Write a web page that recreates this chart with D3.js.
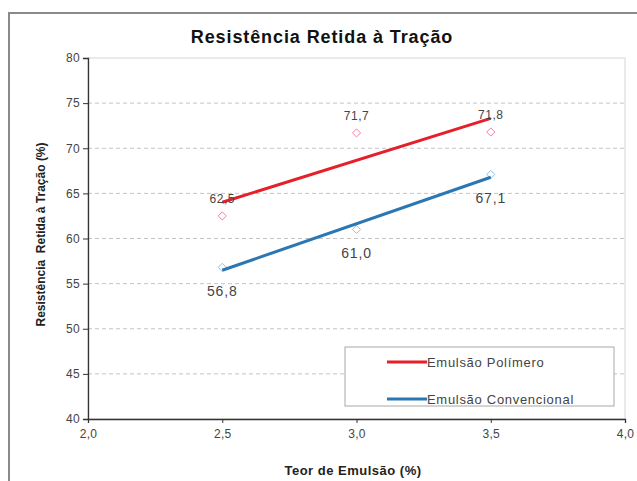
<!DOCTYPE html>
<html>
<head>
<meta charset="utf-8">
<script src="https://cdn.jsdelivr.net/npm/d3@7"></script>
<style>
  html, body { margin: 0; padding: 0; background: #fff; }
  svg { display: block; font-family: Arial, "Liberation Sans", sans-serif; }
</style>
</head>
<body>
<svg id="chart" width="637" height="481"></svg>
<script>
// Teor de emulsão (%) tested
const teor = [2.5, 3.0, 3.5];
// Retained tensile strength (%) per emulsion type
const polimero = [62.5, 71.7, 71.8];
const convencional = [56.8, 61.0, 67.1];
const seriesNames = ["Emulsão Polímero", "Emulsão Convencional"];
const xTicks = [2.0, 2.5, 3.0, 3.5, 4.0];
const yTicks = [40, 45, 50, 55, 60, 65, 70, 75, 80];

const svg = d3.select("#chart");
const fmt = v => d3.format(".1f")(v).replace(".", ",");

const plot = { left: 88, right: 625, top: 58, bottom: 419 };
const x = d3.scaleLinear().domain([2, 4]).range([plot.left, plot.right]);
const y = d3.scaleLinear().domain([40, 80]).range([plot.bottom, plot.top]);

// outer chart frame
svg.append("rect").attr("x", 9).attr("y", 13).attr("width", 640).attr("height", 480)
  .attr("fill", "#fff").attr("stroke", "#8a8a8a").attr("stroke-width", 2);

// plot area frame
svg.append("rect").attr("x", plot.left).attr("y", plot.top)
  .attr("width", plot.right - plot.left).attr("height", plot.bottom - plot.top)
  .attr("fill", "none").attr("stroke", "#d6d6d6").attr("stroke-width", 1);

// dashed horizontal gridlines
svg.append("g").selectAll("line").data(yTicks.filter(t => t > 40 && t < 80)).join("line")
  .attr("x1", plot.left).attr("x2", plot.right)
  .attr("y1", d => y(d)).attr("y2", d => y(d))
  .attr("stroke", "#c4c4c4").attr("stroke-width", 1).attr("stroke-dasharray", "4,3");

// axes
const yAxis = svg.append("g").attr("transform", `translate(${plot.left},0)`)
  .call(d3.axisLeft(y).tickValues(yTicks).tickFormat(d => d).tickSize(5).tickPadding(3));
const xAxis = svg.append("g").attr("transform", `translate(0,${plot.bottom})`)
  .call(d3.axisBottom(x).tickValues(xTicks).tickFormat(fmt).tickSize(4).tickPadding(6));
[yAxis, xAxis].forEach(a => {
  a.select(".domain").attr("stroke", "#333").attr("stroke-width", 1.3);
  a.selectAll(".tick line").attr("stroke", "#333");
  a.selectAll("text").attr("fill", "#444").attr("font-size", 12).attr("letter-spacing", 0.3);
});

// title and axis titles
svg.append("text").attr("x", 322).attr("y", 43).attr("text-anchor", "middle")
  .attr("font-size", 18).attr("font-weight", "bold").attr("fill", "#111")
  .attr("letter-spacing", 0.9)
  .text("Resistência Retida à Tração");
svg.append("text").attr("x", 353).attr("y", 475)
  .attr("text-anchor", "middle").attr("font-size", 13).attr("font-weight", "bold").attr("fill", "#222")
  .attr("letter-spacing", 0.5)
  .text("Teor de Emulsão (%)");
svg.append("text").attr("transform", `translate(45,${(plot.top + plot.bottom) / 2 - 4}) rotate(-90)`)
  .attr("text-anchor", "middle").attr("font-size", 12).attr("font-weight", "bold").attr("fill", "#222")
  .attr("xml:space", "preserve")
  .text("Resistência  Retida à Tração (%)");

// least-squares trend line over the tested range
function trend(xs, ys) {
  const mx = d3.mean(xs), my = d3.mean(ys);
  const b = d3.sum(xs, (v, i) => (v - mx) * (ys[i] - my)) / d3.sum(xs, v => (v - mx) ** 2);
  const a = my - b * mx;
  const x0 = d3.min(xs), x1 = d3.max(xs);
  return [[x0, a + b * x0], [x1, a + b * x1]];
}

const series = [
  { name: seriesNames[0], values: polimero, line: "#e5202a", marker: "#ff7aa0", labelDy: -13, labelSize: 12, ls: 0.5 },
  { name: seriesNames[1], values: convencional, line: "#2a77b4", marker: "#8ec3ea", labelDy: 29, labelSize: 14, ls: 0.8 }
];

const diamond = d3.symbol().type(d3.symbolDiamond2).size(42);
const lineGen = d3.line().x(d => x(d[0])).y(d => y(d[1]));

series.forEach(s => {
  const pts = teor.map((t, i) => [t, s.values[i]]);
  svg.append("g").selectAll("path").data(pts).join("path")
    .attr("d", diamond)
    .attr("transform", d => `translate(${x(d[0])},${y(d[1])})`)
    .attr("fill", "#fff").attr("stroke", s.marker).attr("stroke-width", 1);
  svg.append("path").datum(trend(teor, s.values)).attr("d", lineGen)
    .attr("fill", "none").attr("stroke", s.line).attr("stroke-width", 3);
  svg.append("g").selectAll("text").data(pts).join("text")
    .attr("x", d => x(d[0])).attr("y", d => y(d[1]) + s.labelDy)
    .attr("text-anchor", "middle").attr("font-size", s.labelSize).attr("fill", "#444")
    .attr("letter-spacing", s.ls)
    .text(d => fmt(d[1]));
});

// legend
const lg = svg.append("g").attr("transform", "translate(345,347)");
lg.append("rect").attr("width", 269).attr("height", 59)
  .attr("fill", "#fff").attr("stroke", "#a8a8a8").attr("stroke-width", 1);
series.forEach((s, i) => {
  const yy = 15 + i * 37;
  lg.append("line").attr("x1", 42).attr("x2", 82).attr("y1", yy).attr("y2", yy)
    .attr("stroke", s.line).attr("stroke-width", 3);
  lg.append("text").attr("x", 82).attr("y", yy + 4.5).attr("font-size", 13).attr("fill", "#444")
    .attr("letter-spacing", 0.7)
    .text(s.name);
});
</script>
</body>
</html>
